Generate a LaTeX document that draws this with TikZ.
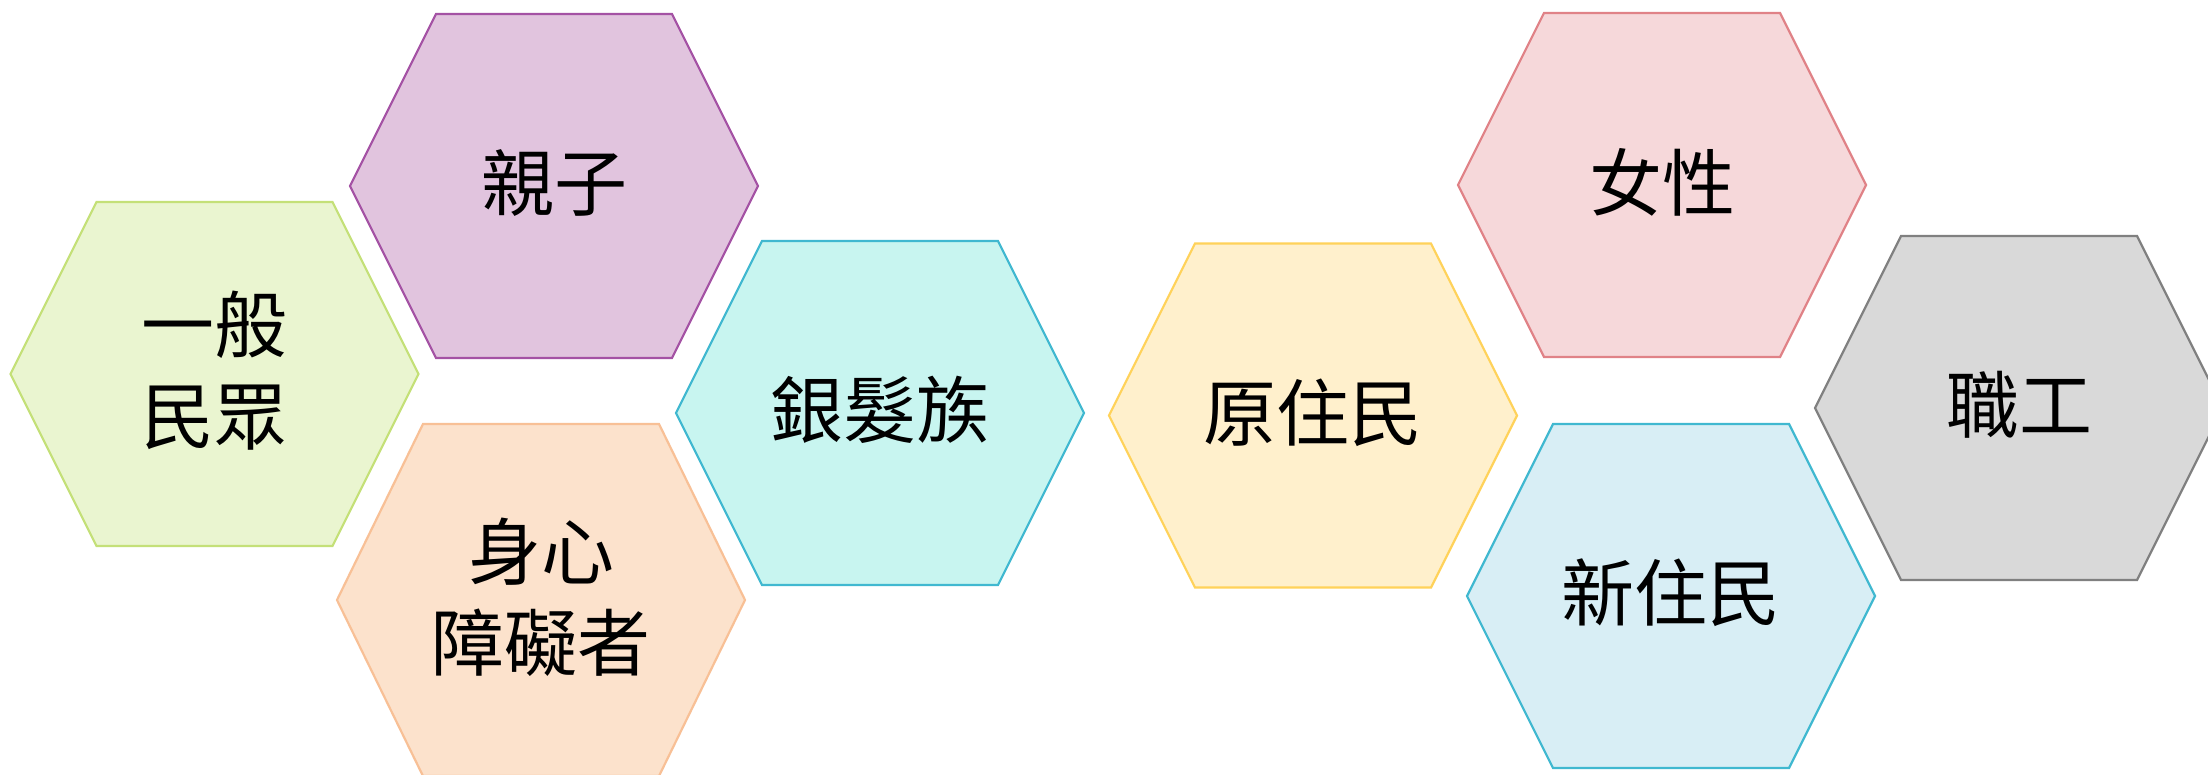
\documentclass[tikz,border=0pt]{standalone}
\usepackage{fontspec}
\newfontfamily\cjk{Noto Sans CJK TC}
\definecolor{gfill}{HTML}{EAF5D0}\definecolor{gline}{HTML}{C4E078}
\definecolor{pfill}{HTML}{E1C4DE}\definecolor{pline}{HTML}{A452A4}
\definecolor{ofill}{HTML}{FCE2CC}\definecolor{oline}{HTML}{F8C096}
\definecolor{cfill}{HTML}{C8F5F0}\definecolor{cline}{HTML}{40B8D0}
\definecolor{yfill}{HTML}{FFF0CC}\definecolor{yline}{HTML}{FFD25A}
\definecolor{rfill}{HTML}{F6D8DA}\definecolor{rline}{HTML}{E08287}
\definecolor{bfill}{HTML}{D8EEF5}\definecolor{bline}{HTML}{40B8D0}
\definecolor{kfill}{HTML}{D9D9D9}\definecolor{kline}{HTML}{808080}
\tikzset{
  hexshape/.style={line width=2.2pt, line join=miter},
  hextext/.style={font=\cjk\fontsize{73pt}{91pt}\selectfont, align=center, inner sep=0pt, text=black},
}
\newcommand\hexagonat[5]{% name, center, fill, line, half-height
  \coordinate (#1) at (#2);
  \filldraw[hexshape, fill=#3, draw=#4]
    ($(#1)+(-204,0)$) -- ($(#1)+(-118,-#5)$) -- ($(#1)+(118,-#5)$) --
    ($(#1)+(204,0)$) -- ($(#1)+(118,#5)$) -- ($(#1)+(-118,#5)$) -- cycle;
}
\usetikzlibrary{calc}
\begin{document}
\begin{tikzpicture}[x=1pt,y=-1pt]
\useasboundingbox (0,0) rectangle (2208,775);
\clip (0,0) rectangle (2208,775);
\fill[white] (0,0) rectangle (2208,775);
\hexagonat{h1}{214.5,374}{gfill}{gline}{172}
\hexagonat{h2}{554,186}{pfill}{pline}{172}
\hexagonat{h3}{541,600}{ofill}{oline}{176}
\hexagonat{h4}{880,413}{cfill}{cline}{172}
\hexagonat{h5}{1313,415.5}{yfill}{yline}{172}
\hexagonat{h6}{1662,185}{rfill}{rline}{172}
\hexagonat{h7}{1671,596}{bfill}{bline}{172}
\hexagonat{h8}{2019,408}{kfill}{kline}{172}
\node[hextext] (t1) at ($(h1)+(0,-3)$) {一般\\民眾};
\node[hextext] (t2) at ($(h2)+(0,-3)$) {親子};
\node[hextext] (t3) at ($(h3)+(0,-3)$) {身心\\障礙者};
\node[hextext] (t4) at ($(h4)+(0,-3)$) {銀髮族};
\node[hextext] (t5) at ($(h5)+(0,-3)$) {原住民};
\node[hextext] (t6) at ($(h6)+(0,-3)$) {女性};
\node[hextext] (t7) at ($(h7)+(0,-3)$) {新住民};
\node[hextext] (t8) at ($(h8)+(0,-3)$) {職工};
\end{tikzpicture}
\end{document}
